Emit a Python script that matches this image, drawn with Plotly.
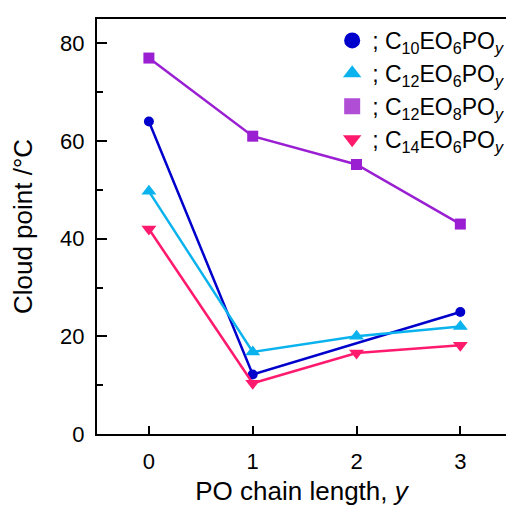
import plotly.graph_objects as go

# Data
x_c10eo6 = [0, 1, 3]
y_c10eo6 = [64, 12.2, 25]
x_c12eo6 = [0, 1, 2, 3]
y_c12eo6 = [49.7, 16.8, 20, 22]
x_c12eo8 = [0, 1, 2, 3]
y_c12eo8 = [77, 61, 55.2, 43]
x_c14eo6 = [0, 1, 2, 3]
y_c14eo6 = [42, 10.4, 16.6, 18.2]

names = [
    "; C<sub>10</sub>EO<sub>6</sub>PO<sub><i>y</i></sub>",
    "; C<sub>12</sub>EO<sub>6</sub>PO<sub><i>y</i></sub>",
    "; C<sub>12</sub>EO<sub>8</sub>PO<sub><i>y</i></sub>",
    "; C<sub>14</sub>EO<sub>6</sub>PO<sub><i>y</i></sub>",
]
colors = ["#0000CC", "#0AB2EE", "#9A1FD3", "#FF1A6E"]
legend_colors = ["#0000CC", "#0AB2EE", "#B04ED6", "#FF1A6E"]
symbols = ["circle", "triangle-up", "square", "triangle-down"]
sizes = [10, 13, 11, 13]
xs = [x_c10eo6, x_c12eo6, x_c12eo8, x_c14eo6]
ys = [y_c10eo6, y_c12eo6, y_c12eo8, y_c14eo6]

fig = go.Figure()
for xv, yv, c, s, sz in zip(xs, ys, colors, symbols, sizes):
    fig.add_trace(go.Scatter(
        x=xv, y=yv, mode="lines+markers",
        line=dict(color=c, width=2.5),
        marker=dict(color=c, symbol=s, size=sz),
        showlegend=False, cliponaxis=False,
    ))
for n, c, s in zip(names, legend_colors, symbols):
    fig.add_trace(go.Scatter(
        x=[None], y=[None], mode="markers", name=n,
        marker=dict(color=c, symbol=s, size=20),
    ))

font = "Liberation Sans, Arial, sans-serif"
fig.update_layout(
    width=506, height=506,
    margin=dict(l=97, r=0, t=19, b=72, autoexpand=False),
    plot_bgcolor="white", paper_bgcolor="white",
    font=dict(family=font, size=22, color="black"),
    showlegend=True,
    legend=dict(
        x=0.575, y=1.0, xanchor="left", yanchor="top",
        bgcolor="rgba(0,0,0,0)", borderwidth=0,
        font=dict(size=23), itemwidth=30, tracegroupgap=0,
    ),
    xaxis=dict(
        range=[-0.5, 3.44], tickvals=[0, 1, 2, 3],
        ticks="inside", ticklen=8, tickwidth=2, tickcolor="black",
        showline=True, linecolor="black", linewidth=2, mirror=True,
        showgrid=False, zeroline=False, automargin=False,
        title=dict(text="PO chain length, <i>y</i>", standoff=17),
        ticklabelstandoff=7,
    ),
    yaxis=dict(
        range=[0, 85], tickvals=[0, 20, 40, 60, 80],
        ticks="inside", ticklen=10, tickwidth=2, tickcolor="black",
        minor=dict(dtick=10, ticks="inside", ticklen=6, tickwidth=2, tickcolor="black"),
        showline=True, linecolor="black", linewidth=2,
        showgrid=False, zeroline=False, automargin=False,
        title=dict(text="Cloud point /°C", standoff=20),
        ticklabelstandoff=6,
    ),
)

fig.write_html("out.html")
